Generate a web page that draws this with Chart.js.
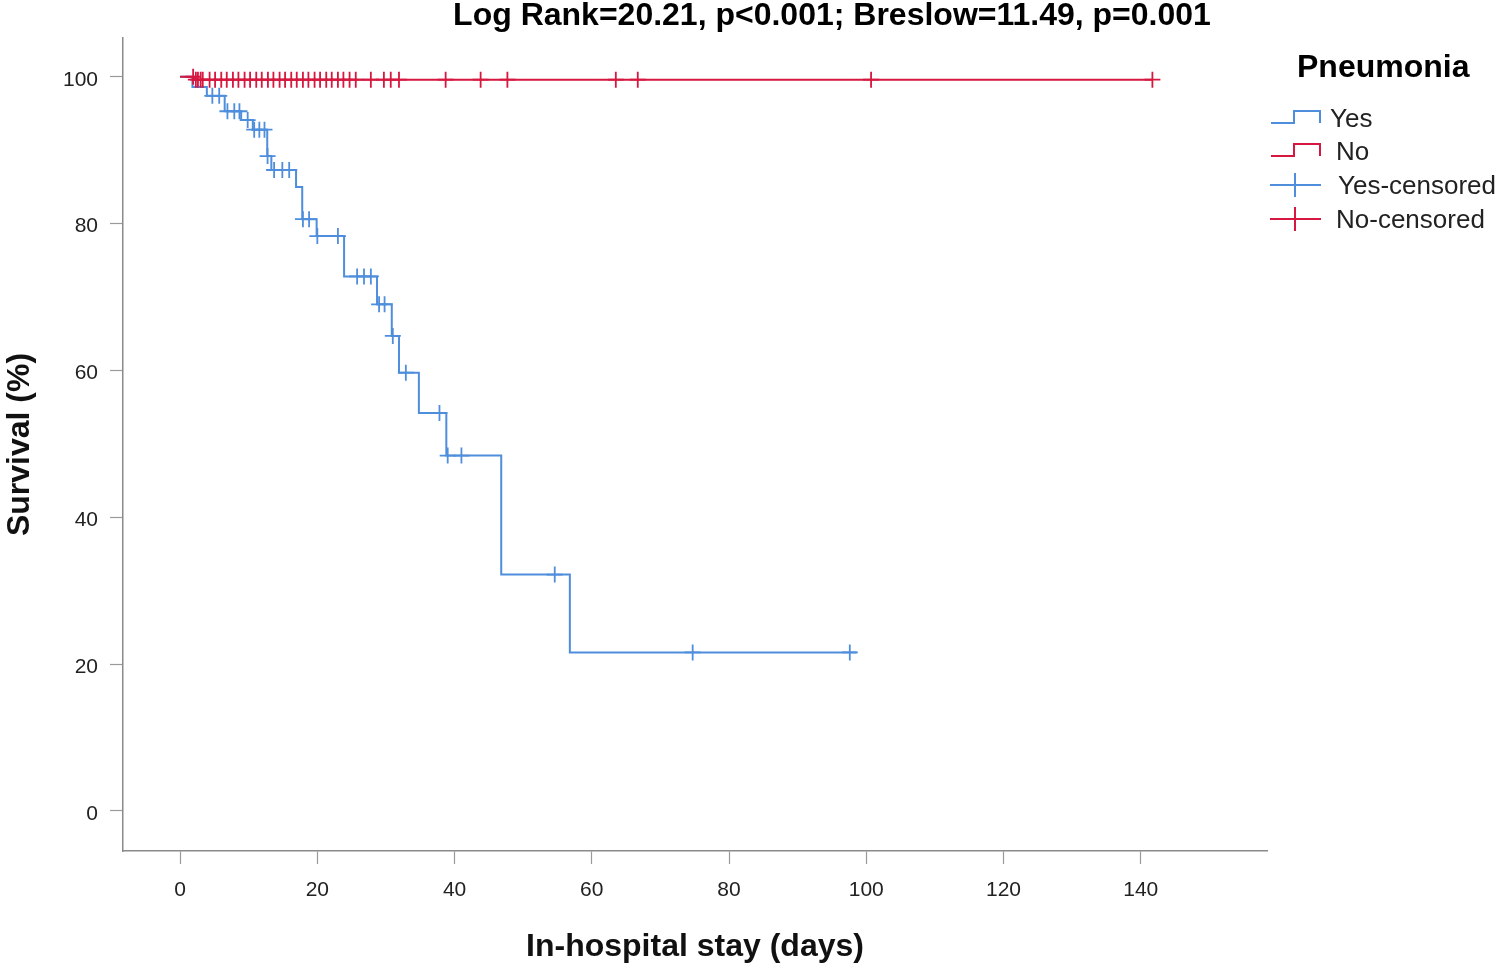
<!DOCTYPE html>
<html>
<head>
<meta charset="utf-8">
<script src="https://cdn.jsdelivr.net/npm/chart.js@4"></script>
<style>
  body { margin: 0; background: #fff; }
  #wrap { width: 1498px; height: 970px; position: relative; }
</style>
</head>
<body>
<div id="wrap"><canvas id="km"></canvas></div>
<script>
// Kaplan-Meier steps: time (days) and survival (%) right after each step
const yesTimes = [0, 1.8, 3.9, 6.5, 8.9, 10.6, 12.7, 13.3, 16.9, 17.8, 19.9, 23.9, 28.7, 30.85, 31.9, 34.8, 38.8, 46.8, 56.8, 98.6];
const yesSurv  = [100, 98.6, 97.4, 95.3, 94.1, 92.8, 89.2, 87.3, 85.0, 80.6, 78.3, 72.8, 69.0, 64.7, 59.7, 54.2, 48.4, 32.2, 21.6, 21.6];
const noTimes = [0, 2.0, 141.7];
const noSurv  = [100, 99.6, 99.6];

// censored cases (days)
const yesCensored = [4.7, 5.7, 6.9, 7.9, 8.65, 9.85, 10.8, 11.55, 12.3, 12.75, 13.7, 14.9, 15.9, 17.9, 18.8, 20.0, 23.0,
  25.8, 26.8, 27.8, 29.0, 29.8, 31.0, 32.9, 37.8, 39.0, 41.0, 54.6, 74.7, 97.6];
const noCensored = [1.9, 2.3, 2.6, 3.0, 3.3, 4.3, 5.1, 6.0, 6.8, 7.7, 8.5, 9.4, 10.2, 11.1, 11.9, 12.8, 13.6, 14.5, 15.3,
  16.2, 17.0, 17.9, 18.7, 19.6, 20.4, 21.3, 22.1, 23.0, 23.8, 24.7, 25.6, 27.8, 29.7, 30.7, 31.9, 38.7, 43.8, 47.7,
  63.5, 66.7, 100.7, 141.7];

const groups = ['Yes', 'No'];
const legendTitle = 'Pneumonia';
const chartTitle = 'Log Rank=20.21, p<0.001; Breslow=11.49, p=0.001';
const xTitle = 'In-hospital stay (days)';
const yTitle = 'Survival (%)';

const BLUE = '#4e8edc';
const RED = '#d6173f';
const FONT = 'Arial, "Liberation Sans", sans-serif';

function stepPoints(times, surv) {
  return times.map((t, i) => ({ x: t, y: surv[i] }));
}

// survival value of the curve at time t (for placing censor ticks on the curve)
function survivalAt(times, surv, t) {
  let s = surv[0];
  for (let i = 0; i < times.length; i++) {
    if (times[i] <= t) s = surv[i];
  }
  return s;
}

function censorPoints(times, surv, cens) {
  return cens.map(t => ({ x: t, y: survivalAt(times, surv, t) }));
}

const decorations = {
  id: 'decorations',
  afterDraw(chart) {
    const ctx = chart.ctx;
    ctx.save();
    ctx.fillStyle = '#000';
    ctx.textBaseline = 'middle';

    ctx.font = 'bold 32px ' + FONT;
    ctx.textAlign = 'center';
    ctx.fillText(chartTitle, 832, 16);

    ctx.textAlign = 'left';
    ctx.fillText(legendTitle, 1297, 68);

    ctx.font = '26px ' + FONT;
    ctx.fillStyle = '#222';
    ctx.fillText(groups[0], 1330, 120);
    ctx.fillText(groups[1], 1336, 153);
    ctx.fillText(groups[0] + '-censored', 1338, 187);
    ctx.fillText(groups[1] + '-censored', 1336, 221);

    ctx.lineWidth = 2;
    const stepIcon = (color, yLow, yHigh) => {
      ctx.strokeStyle = color;
      ctx.beginPath();
      ctx.moveTo(1271, yLow);
      ctx.lineTo(1294, yLow);
      ctx.lineTo(1294, yHigh);
      ctx.lineTo(1320, yHigh);
      ctx.lineTo(1320, yLow);
      ctx.stroke();
    };
    stepIcon(BLUE, 123, 111);
    stepIcon(RED, 156, 144);

    const crossIcon = (color, y) => {
      ctx.strokeStyle = color;
      ctx.beginPath();
      ctx.moveTo(1270, y);
      ctx.lineTo(1321, y);
      ctx.moveTo(1295, y - 12);
      ctx.lineTo(1295, y + 12);
      ctx.stroke();
    };
    crossIcon(BLUE, 185);
    crossIcon(RED, 219);
    ctx.restore();
  }
};

new Chart(document.getElementById('km'), {
  type: 'line',
  data: {
    datasets: [
      {
        label: groups[1] + '-censored',
        data: censorPoints(noTimes, noSurv, noCensored),
        showLine: false,
        pointStyle: 'cross',
        pointRadius: 8,
        borderColor: RED,
        borderWidth: 1.8
      },
      {
        label: groups[1],
        data: stepPoints(noTimes, noSurv),
        stepped: 'before',
        borderColor: RED,
        borderWidth: 2,
        pointRadius: 0,
        fill: false
      },
      {
        label: groups[0] + '-censored',
        data: censorPoints(yesTimes, yesSurv, yesCensored),
        showLine: false,
        pointStyle: 'cross',
        pointRadius: 8,
        borderColor: BLUE,
        borderWidth: 1.8
      },
      {
        label: groups[0],
        data: stepPoints(yesTimes, yesSurv),
        stepped: 'before',
        borderColor: BLUE,
        borderWidth: 2,
        pointRadius: 0,
        fill: false
      }
    ]
  },
  options: {
    responsive: true,
    maintainAspectRatio: false,
    animation: false,
    layout: { padding: { left: 0, top: 38, right: 231, bottom: 0 } },
    plugins: {
      legend: { display: false },
      tooltip: { enabled: false }
    },
    scales: {
      x: {
        type: 'linear',
        min: -8.32,
        max: 158.4,
        afterFit: s => { s.height = 119; },
        border: { color: '#8a8a8a', width: 1.5 },
        grid: { drawOnChartArea: false, drawTicks: true, tickLength: 13, tickColor: '#9a9a9a', tickWidth: 1.2 },
        ticks: {
          stepSize: 20,
          includeBounds: false,
          padding: 14,
          color: '#222',
          font: { family: FONT, size: 21 },
          maxRotation: 0
        },
        title: {
          display: true,
          text: xTitle,
          color: '#111',
          font: { family: FONT, size: 32, weight: 'bold' },
          padding: { top: 0, bottom: 4 }
        }
      },
      y: {
        type: 'linear',
        min: -5.45,
        max: 105.28,
        afterFit: s => { s.width = 123; },
        border: { color: '#8a8a8a', width: 1.5 },
        grid: { drawOnChartArea: false, drawTicks: true, tickLength: 13, tickColor: '#9a9a9a', tickWidth: 1.2 },
        ticks: {
          stepSize: 20,
          includeBounds: false,
          padding: 12,
          labelOffset: 3,
          color: '#222',
          font: { family: FONT, size: 21 }
        },
        title: {
          display: true,
          text: yTitle,
          color: '#111',
          font: { family: FONT, size: 32, weight: 'bold' },
          padding: { top: 1, bottom: 0 }
        }
      }
    }
  },
  plugins: [decorations]
});
</script>
</body>
</html>
